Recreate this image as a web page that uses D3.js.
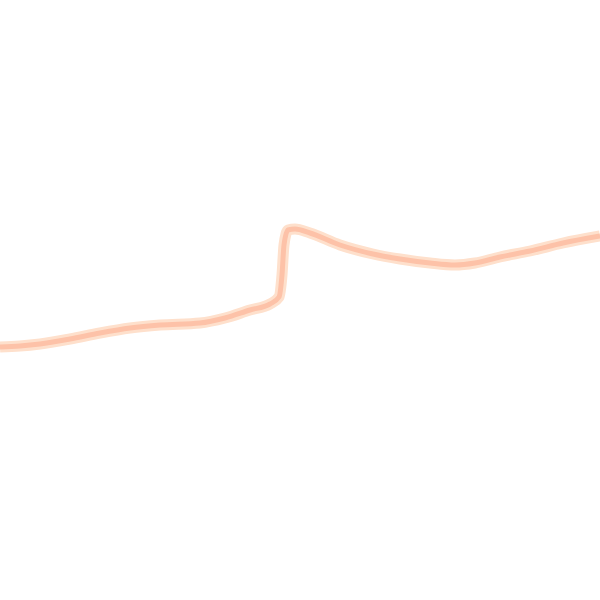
<!DOCTYPE html>
<html>
<head>
<meta charset="utf-8">
<script src="https://cdn.jsdelivr.net/npm/d3@7"></script>
<style>
  html, body { margin: 0; padding: 0; background: #fff; }
</style>
</head>
<body>
<div id="chart"></div>
<script>
// values (no axes shown, so units are arbitrary)
const xs = [0, 20, 40, 70, 100, 130, 160, 200, 225, 250, 270, 279, 282, 284, 288, 295, 310, 340, 373, 400, 430, 455, 475, 500, 530, 563, 600];
const ys = [253, 254, 256, 261, 267, 272, 275, 277, 282, 290, 296, 303, 325, 355, 370, 371, 367, 355, 346, 341, 337, 335, 337, 343, 349, 357, 364];

const width = 600;
const height = 600;

const data = xs.map((x, i) => ({ x: x, y: ys[i] }));

const svg = d3.select("#chart")
    .append("svg")
    .attr("width", width)
    .attr("height", height);

const x = d3.scaleLinear().domain([0, 600]).range([0, width]);
const y = d3.scaleLinear().domain([0, 600]).range([height, 0]);

const line = d3.line()
    .x(d => x(d.x))
    .y(d => y(d.y))
    .curve(d3.curveMonotoneX);

// soft outer halo
svg.append("path")
    .datum(data)
    .attr("d", line)
    .attr("fill", "none")
    .attr("stroke", "#fee0cc")
    .attr("stroke-width", 11)
    .attr("stroke-linejoin", "round");

// core stroke
svg.append("path")
    .datum(data)
    .attr("d", line)
    .attr("fill", "none")
    .attr("stroke", "#fdc2a8")
    .attr("stroke-width", 5)
    .attr("stroke-linejoin", "round");
</script>
</body>
</html>
